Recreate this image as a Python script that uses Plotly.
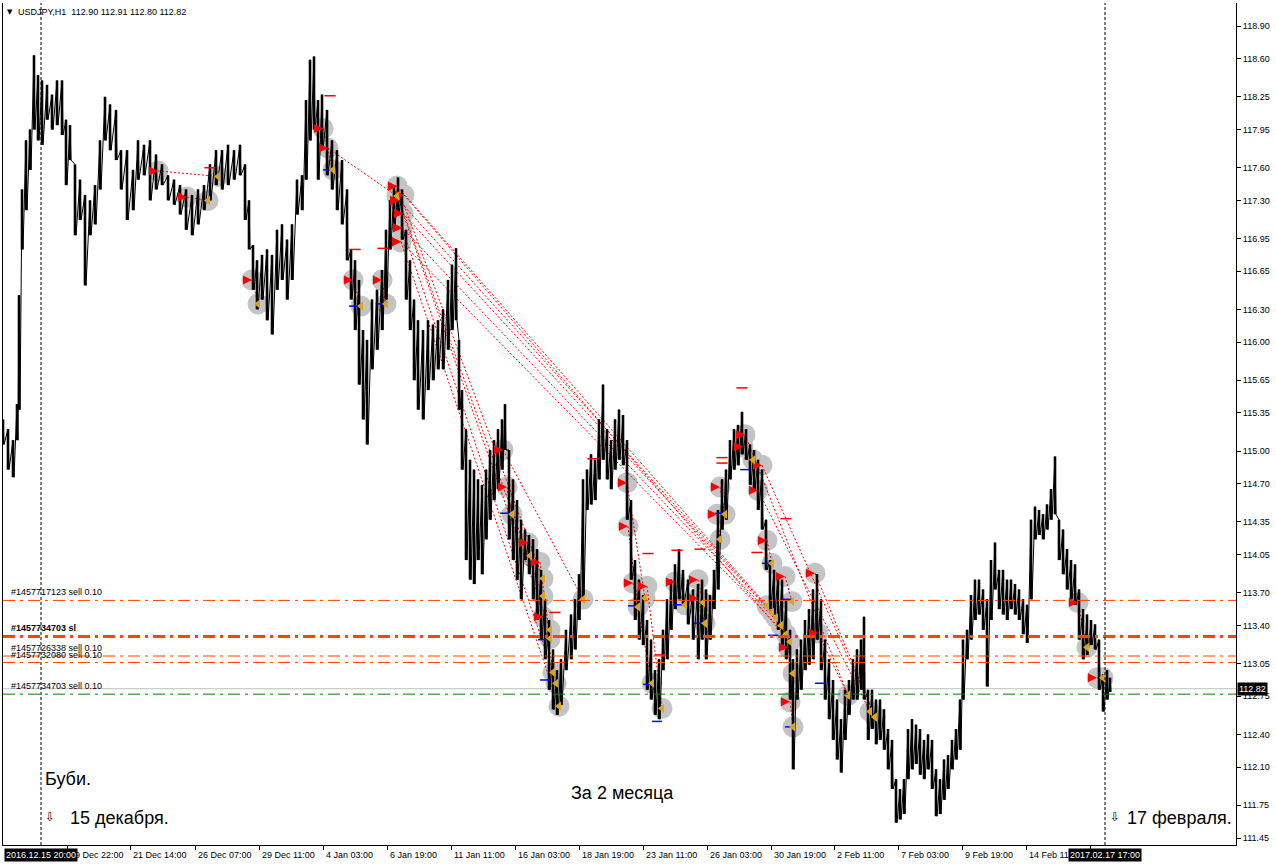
import plotly.graph_objects as go

# ---------------- price data (bar index ~ hours on chart, high / low) ----------------
bar_idx = [3, 8, 13, 17, 19, 22, 26, 30, 34, 38, 42, 47, 52, 57, 62, 66, 70, 75, 80, 85,
           90, 95, 100, 105, 110, 116, 121, 127, 133, 138, 144, 150, 156, 162, 168, 174, 180, 186, 192, 198,
           204, 210, 216, 222, 228, 234, 240, 245, 249, 253, 257, 262, 267, 272, 277, 282, 287, 292, 297, 302,
           306, 310, 314, 318, 322, 327, 332, 337, 342, 347, 351, 355, 359, 363, 367, 372, 377, 382, 386, 390,
           394, 398, 402, 406, 410, 414, 418, 423, 428, 433, 438, 443, 448, 452, 456, 459, 462, 466, 470, 474,
           478, 482, 486, 490, 494, 498, 502, 505, 509, 513, 517, 521, 525, 529, 533, 537, 541, 545, 549, 553,
           557, 561, 566, 571, 575, 579, 583, 587, 591, 595, 599, 603, 607, 611, 615, 619, 623, 627, 631, 635,
           639, 643, 647, 651, 655, 659, 663, 667, 671, 675, 679, 683, 688, 693, 698, 702, 706, 710, 714, 718,
           722, 726, 730, 734, 738, 742, 746, 750, 754, 758, 762, 766, 770, 774, 778, 782, 786, 790, 793, 797,
           801, 805, 809, 813, 817, 821, 825, 829, 833, 837, 841, 845, 849, 853, 857, 861, 864, 868, 872, 876,
           880, 884, 888, 892, 896, 900, 904, 908, 912, 916, 920, 924, 928, 932, 936, 940, 944, 948, 952, 956,
           960, 963, 967, 971, 975, 979, 983, 987, 991, 995, 999, 1003, 1007, 1011, 1015, 1019, 1023, 1027, 1031, 1035,
           1039, 1043, 1047, 1051, 1055, 1059, 1063, 1067, 1071, 1075, 1079, 1083, 1087, 1091, 1095, 1099, 1103, 1107, 1110]
bar_high = [115.29, 115.20, 115.10, 115.43, 116.43, 117.40, 117.85, 117.95, 118.63, 118.45, 118.40, 118.36, 118.27, 118.40, 118.40, 118.04, 117.99, 117.63, 117.49, 117.35,
            117.30, 117.44, 117.85, 118.25, 118.18, 118.13, 117.76, 117.76, 117.58, 117.85, 117.81, 117.85, 117.72, 117.63, 117.53, 117.49, 117.44, 117.40, 117.35, 117.40,
            117.44, 117.63, 117.76, 117.76, 117.81, 117.76, 117.81, 117.63, 117.30, 116.89, 116.75, 116.80, 116.85, 116.80, 117.03, 117.08, 116.94, 117.08, 117.49, 117.53,
            118.22, 118.59, 118.62, 118.22, 118.27, 118.13, 117.85, 117.76, 117.67, 117.40, 116.85, 116.75, 116.57, 116.11, 116.02, 116.39, 116.48, 116.66, 117.03, 117.30,
            117.44, 117.51, 117.40, 117.03, 116.75, 116.39, 116.20, 116.11, 116.20, 116.16, 116.20, 116.30, 116.57, 116.71, 116.86, 116.02, 115.56, 115.20, 114.92, 114.83,
            114.74, 114.69, 114.83, 115.01, 115.10, 115.20, 115.29, 115.43, 115.01, 114.74, 114.55, 114.37, 114.28, 114.23, 114.19, 114.10, 113.91, 113.64, 113.45, 113.18,
            112.99, 113.09, 113.36, 113.50, 113.64, 113.87, 114.74, 114.83, 114.97, 114.92, 115.29, 115.61, 115.20, 115.10, 115.29, 115.38, 115.33, 115.10, 114.55, 114.00,
            113.82, 113.68, 113.45, 113.27, 112.99, 113.09, 113.36, 113.64, 113.82, 113.96, 114.10, 113.91, 113.82, 113.73, 113.78, 113.82, 113.73, 113.68, 113.91, 114.46,
            114.74, 114.83, 115.10, 115.20, 115.24, 115.36, 115.20, 115.06, 115.01, 114.92, 114.83, 114.37, 114.00, 113.91, 113.87, 113.82, 113.64, 113.36, 113.09, 113.18,
            113.27, 113.45, 113.55, 113.73, 113.87, 113.64, 113.27, 113.09, 112.90, 112.72, 112.54, 112.81, 112.90, 113.09, 113.18, 113.27, 113.48, 112.81, 112.81, 112.72,
            112.72, 112.63, 112.45, 112.35, 111.99, 111.90, 111.99, 112.45, 112.54, 112.49, 112.45, 112.35, 112.40, 112.35, 112.08, 111.99, 112.17, 112.21, 112.35, 112.45,
            112.72, 113.27, 113.36, 113.68, 113.82, 113.82, 113.73, 113.64, 114.00, 114.16, 113.91, 113.91, 113.82, 113.82, 113.78, 113.73, 113.64, 113.59, 114.37, 114.49,
            114.46, 114.42, 114.51, 114.65, 114.95, 114.37, 114.28, 114.10, 114.00, 113.96, 113.73, 113.55, 113.50, 113.45, 113.41, 113.27, 112.95, 112.99, 112.92]
bar_low = [115.06, 114.83, 114.76, 115.10, 115.38, 116.85, 117.21, 117.58, 117.95, 117.85, 117.81, 118.04, 117.95, 117.99, 117.90, 117.44, 117.67, 116.98, 117.12, 116.52,
           116.98, 117.08, 117.40, 117.85, 117.76, 117.67, 117.40, 117.12, 117.21, 117.49, 117.53, 117.30, 117.40, 117.44, 117.30, 117.26, 117.17, 117.03, 116.98, 117.08,
           117.21, 117.30, 117.44, 117.40, 117.44, 117.49, 117.53, 117.12, 116.85, 116.48, 116.30, 116.39, 116.20, 116.07, 116.48, 116.57, 116.39, 116.57, 117.17, 117.21,
           117.49, 117.85, 117.95, 117.49, 117.76, 117.53, 117.40, 117.21, 117.08, 116.75, 116.39, 116.11, 115.61, 115.29, 115.06, 115.75, 115.93, 116.11, 116.39, 116.85,
           117.03, 117.17, 116.94, 116.39, 116.11, 115.65, 115.38, 115.29, 115.56, 115.65, 115.75, 115.75, 115.93, 116.11, 116.20, 115.38, 114.83, 114.00, 113.82, 113.78,
           114.00, 113.87, 114.19, 114.37, 114.55, 114.65, 114.83, 115.01, 114.19, 114.00, 113.82, 113.64, 114.00, 113.87, 113.64, 113.45, 113.27, 113.09, 112.81, 112.63,
           112.58, 112.67, 112.99, 113.09, 113.18, 113.45, 113.64, 114.46, 114.51, 114.55, 114.74, 114.92, 114.74, 114.65, 114.83, 114.92, 114.87, 114.37, 113.82, 113.45,
           113.27, 113.22, 112.81, 112.72, 112.58, 112.54, 112.99, 113.09, 113.36, 113.55, 113.64, 113.59, 113.41, 113.27, 113.09, 113.27, 113.09, 113.27, 113.55, 113.73,
           114.28, 114.37, 114.74, 114.83, 114.87, 114.97, 114.92, 114.69, 114.65, 114.46, 114.28, 113.91, 113.55, 113.50, 113.36, 113.18, 113.09, 112.72, 112.08, 112.72,
           112.81, 112.99, 113.04, 113.09, 113.27, 112.99, 112.72, 112.54, 112.35, 112.17, 112.05, 112.35, 112.58, 112.72, 112.72, 112.81, 112.72, 112.35, 112.45, 112.31,
           112.35, 112.26, 112.08, 111.90, 111.59, 111.62, 111.67, 111.99, 112.08, 112.13, 112.03, 111.99, 112.08, 111.90, 111.65, 111.67, 111.80, 111.90, 112.08, 112.17,
           112.26, 112.72, 113.09, 113.27, 113.45, 113.50, 113.36, 112.84, 113.45, 113.73, 113.55, 113.50, 113.45, 113.55, 113.50, 113.45, 113.32, 113.24, 113.64, 114.19,
           114.23, 114.19, 114.28, 114.37, 114.42, 114.00, 113.87, 113.73, 113.64, 113.59, 113.27, 113.09, 113.13, 113.22, 113.18, 112.81, 112.61, 112.72, 112.79]

# ---------------- trades: open (sell arrow) -> close (triangle) ----------------
open_idx = [158, 187, 252, 323, 328, 353, 382, 397, 399, 403, 402, 401, 404, 397, 399, 403, 402, 401,
            503, 507, 528, 540, 543, 627, 628, 633, 647, 675, 698, 698, 720, 717, 745, 743, 762, 758,
            767, 785, 788, 790, 815, 818, 1078, 1097]
open_price = [117.57, 117.33, 116.57, 117.96, 117.78, 116.57, 116.57, 117.43, 117.30, 117.18, 117.05, 116.92, 117.35, 117.43, 117.30, 117.18, 117.05, 116.92,
              115.01, 114.67, 114.16, 113.98, 113.48, 114.71, 114.31, 113.79, 113.76, 113.80, 113.82, 113.65, 114.67, 114.42, 115.15, 115.04, 114.87, 114.64,
              114.18, 113.85, 113.20, 112.70, 113.88, 113.33, 113.61, 112.92]
close_idx = [218, 208, 258, 333, 397, 361, 386, 767, 772, 776, 781, 786, 790, 543, 543, 550, 553, 559,
             583, 512, 530, 550, 556, 645, 638, 652, 662, 685, 703, 705, 725, 720, 848, 753, 875, 870,
             772, 792, 793, 793, 875, 848, 1087, 1103]
close_price = [117.52, 117.30, 116.35, 117.58, 117.34, 116.33, 116.35, 113.58, 113.52, 113.47, 113.40, 113.32, 113.25, 113.83, 113.67, 113.36, 112.97, 112.66,
               113.64, 114.42, 114.04, 113.28, 112.87, 113.65, 113.57, 112.87, 112.64, 113.59, 113.61, 113.42, 114.42, 114.19, 112.76, 114.92, 112.56, 112.61,
               113.97, 113.62, 112.96, 112.47, 112.56, 112.76, 113.20, 112.92]

sl_idx = [330, 355, 383, 210, 742, 722, 722, 677, 700, 648, 757, 786, 660, 555, 593]
sl_price = [118.26, 116.85, 116.86, 117.60, 115.58, 114.94, 114.89, 114.09, 114.10, 114.06, 114.07, 114.38, 113.13, 113.52, 114.93]
tp_idx = [328, 354, 382, 505, 543, 545, 633, 648, 657, 678, 699, 720, 745, 767, 773, 787, 790, 820]
tp_price = [117.58, 116.33, 116.35, 114.43, 113.27, 112.90, 113.58, 112.86, 112.52, 113.59, 113.42, 114.43, 114.83, 113.97, 113.31, 113.64, 112.47, 112.87]

# ---------------- order lines ----------------
order_labels = ["#1457717123 sell 0.10", "#1457734703 sl", "#1457726338 sell 0.10",
                "#1457732080 sell 0.10", "#1457734703 sell 0.10"]
order_prices = [113.63, 113.30, 113.12, 113.06, 112.77]
order_colors = ["#FF4500", "#FF4500", "#FF4500", "#FF4500", "#008000"]
order_widths = [1, 3, 1, 1, 1]
bid_price = 112.82

# ---------------- axes ----------------
y_ticks = [118.90, 118.60, 118.25, 117.95, 117.60, 117.30, 116.95, 116.65, 116.30, 116.00, 115.65, 115.35,
           115.00, 114.70, 114.35, 114.05, 113.70, 113.40, 113.05, 112.75, 112.40, 112.10, 111.75, 111.45]
x_tick_idx = [67, 130, 195, 259, 323, 387, 451, 515, 579, 643, 707, 771, 834, 898, 962, 1026, 1090]
x_tick_text = ["19 Dec 22:00", "21 Dec 14:00", "26 Dec 07:00", "29 Dec 11:00", "4 Jan 03:00", "6 Jan 19:00",
               "11 Jan 11:00", "16 Jan 03:00", "18 Jan 19:00", "23 Jan 11:00", "26 Jan 03:00", "30 Jan 19:00",
               "2 Feb 11:00", "7 Feb 03:00", "9 Feb 19:00", "14 Feb 11:00"]
vline_idx = [41, 1105]
vline_text = ["2016.12.15 20:00", "2017.02.17 17:00"]

W, H = 1276, 866
ML, MR, MT, MB = 3, 40, 3, 21
PW, PH = W - ML - MR, H - MT - MB


def px_x(x):
    return (x - ML) / PW


def px_y(y):
    return (H - MB - y) / PH


FONT = "Liberation Sans, Arial, sans-serif"

fig = go.Figure()

# grey circles behind everything
fig.add_trace(go.Scatter(x=open_idx + close_idx, y=open_price + close_price, mode="markers",
                         marker=dict(size=21, color="#C4C4C4", line=dict(width=0)),
                         hoverinfo="skip", showlegend=False))

# trade lines
lx, ly = [], []
for a, b, c, d in zip(open_idx, open_price, close_idx, close_price):
    lx += [a, c, None]
    ly += [b, d, None]
fig.add_trace(go.Scatter(x=lx, y=ly, mode="lines", line=dict(color="#FF0000", width=1, dash="2px,2px"),
                         hoverinfo="skip", showlegend=False))

# price bars: vertical high-low strokes plus a thin path joining them
vx, vy = [], []
for x, h, l in zip(bar_idx, bar_high, bar_low):
    vx += [x, x, None]
    vy += [h, l, None]
fig.add_trace(go.Scatter(x=vx, y=vy, mode="lines", line=dict(color="black", width=2.6),
                         hoverinfo="skip", showlegend=False))
zx, zy = [], []
for x, h, l in zip(bar_idx, bar_high, bar_low):
    zx += [x, x + 1]
    zy += [h, l]
fig.add_trace(go.Scatter(x=zx, y=zy, mode="lines", line=dict(color="black", width=1),
                         hoverinfo="skip", showlegend=False))

# stop / target dashes
fig.add_trace(go.Scatter(x=sl_idx, y=sl_price, mode="markers",
                         marker=dict(symbol="line-ew", size=8, line=dict(color="#FF0000", width=1.5)),
                         hoverinfo="skip", showlegend=False))
fig.add_trace(go.Scatter(x=tp_idx, y=tp_price, mode="markers",
                         marker=dict(symbol="line-ew", size=7, line=dict(color="#0000FF", width=1.5)),
                         hoverinfo="skip", showlegend=False))
# arrows & triangles
fig.add_trace(go.Scatter(x=open_idx, y=open_price, mode="markers",
                         marker=dict(symbol="arrow-right", size=9, color="#FF0000", line=dict(width=0)),
                         hoverinfo="skip", showlegend=False))
fig.add_trace(go.Scatter(x=close_idx, y=close_price, mode="markers",
                         marker=dict(symbol="triangle-left", size=8, color="#DAA520", line=dict(width=0)),
                         hoverinfo="skip", showlegend=False))

shapes = []
for p, c, w in zip(order_prices, order_colors, order_widths):
    shapes.append(dict(type="line", xref="paper", x0=0, x1=1, yref="y", y0=p, y1=p,
                       line=dict(color=c, width=w, dash="12px,5px,3px,5px")))
shapes.append(dict(type="line", xref="paper", x0=0, x1=1, yref="y", y0=bid_price, y1=bid_price,
                   line=dict(color="#C0C0C0", width=1), layer="below"))
for v in vline_idx:
    shapes.append(dict(type="line", xref="x", x0=v, x1=v, yref="paper", y0=0, y1=1,
                       line=dict(color="black", width=1, dash="3px,2px")))

ann = []
for t, p in zip(order_labels, order_prices):
    ann.append(dict(text=("<b>" + t + "</b>") if t.endswith("sl") else t, xref="paper", x=px_x(9),
                    yref="y", y=p, yanchor="bottom", xanchor="left", showarrow=False, yshift=1,
                    font=dict(family=FONT, size=9, color="black")))
for x, t in zip(x_tick_idx, x_tick_text):
    ann.append(dict(text=t, xref="x", x=x + 1, yref="paper", y=px_y(855), xanchor="left", yanchor="middle",
                    showarrow=False, font=dict(family=FONT, size=9, color="black")))
for x, t in zip(vline_idx, vline_text):
    ann.append(dict(text=t, xref="x", x=x, yref="paper", y=px_y(855), xanchor="center", yanchor="middle",
                    showarrow=False, bgcolor="black", borderpad=1,
                    font=dict(family=FONT, size=9, color="white")))
ann.append(dict(text="%.2f" % bid_price, xref="paper", x=px_x(1237), yref="y", y=bid_price,
                xanchor="left", yanchor="middle", showarrow=False, bgcolor="black", borderpad=1,
                font=dict(family=FONT, size=9, color="white")))
ann.append(dict(text="▼", xref="paper", x=px_x(5), yref="paper", y=px_y(12), xanchor="left", yanchor="middle",
                showarrow=False, font=dict(family="DejaVu Sans", size=7, color="black")))
ann.append(dict(text="USDJPY,H1  112.90 112.91 112.80 112.82", xref="paper", x=px_x(16), yref="paper",
                y=px_y(12), xanchor="left", yanchor="middle", showarrow=False,
                font=dict(family=FONT, size=9, color="black")))
ann.append(dict(text="Буби.", xref="paper", x=px_x(43), yref="paper", y=px_y(779), xanchor="left",
                yanchor="middle", showarrow=False, font=dict(family=FONT, size=18, color="black")))
ann.append(dict(text="⇩", xref="paper", x=px_x(43), yref="paper", y=px_y(817), xanchor="left",
                yanchor="middle", showarrow=False, font=dict(family="DejaVu Sans", size=12, color="black")))
ann.append(dict(text="15 декабря.", xref="paper", x=px_x(68), yref="paper", y=px_y(818), xanchor="left",
                yanchor="middle", showarrow=False, font=dict(family=FONT, size=18, color="black")))
ann.append(dict(text="За 2 месяца", xref="paper", x=px_x(569), yref="paper", y=px_y(793), xanchor="left",
                yanchor="middle", showarrow=False, font=dict(family=FONT, size=18, color="black")))
ann.append(dict(text="⇩", xref="paper", x=px_x(1108), yref="paper", y=px_y(817), xanchor="left",
                yanchor="middle", showarrow=False, font=dict(family="DejaVu Sans", size=12, color="black")))
ann.append(dict(text="17 февраля.", xref="paper", x=px_x(1125), yref="paper", y=px_y(818), xanchor="left",
                yanchor="middle", showarrow=False, font=dict(family=FONT, size=18, color="black")))

fig.update_layout(
    width=W, height=H, margin=dict(l=ML, r=MR, t=MT, b=MB, pad=0),
    paper_bgcolor="white", plot_bgcolor="white",
    shapes=shapes, annotations=ann, showlegend=False,
    xaxis=dict(range=[ML, W - MR], showgrid=False, zeroline=False, showline=True, linecolor="black",
               linewidth=1, mirror=False, ticks="outside", ticklen=4, tickcolor="black",
               tickvals=x_tick_idx, showticklabels=False),
    yaxis=dict(range=[111.386, 119.111], side="right", showgrid=False, zeroline=False, showline=True,
               linecolor="black", linewidth=1, mirror=True, ticks="outside", ticklen=4, tickcolor="black",
               tickvals=y_ticks, ticktext=["%.2f" % v for v in y_ticks],
               tickfont=dict(family=FONT, size=9, color="black")),
)

fig.write_html("out.html", config={"displayModeBar": False},
               post_script="document.body.style.margin='0px';document.body.style.overflow='hidden';")
